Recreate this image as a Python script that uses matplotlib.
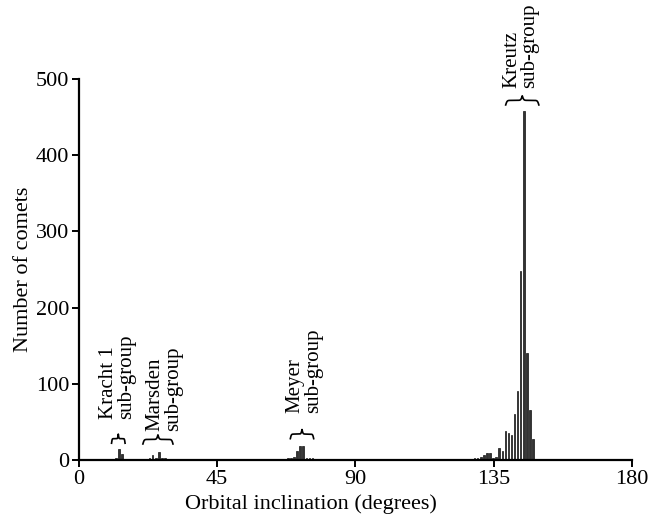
import numpy as np
import matplotlib
matplotlib.use("Agg")
import matplotlib.pyplot as plt

plt.rcParams["font.family"] = ["Liberation Serif", "DejaVu Serif"]

# inclination bins (degrees) and number of comets in each
kracht_inc = [12.0, 13.0, 14.0]
kracht_n = [3, 15, 8]

marsden_inc = [22.0, 23.0, 24.0, 25.0, 26.0, 27.0, 28.0, 29.0, 31.0, 33.0]
marsden_n = [1, 2, 7, 2, 11, 3, 2, 1, 1, 1]

meyer_inc = [66.0, 67.0, 68.0, 69.0, 70.0, 71.0, 72.0, 73.0, 74.0, 75.0, 76.0, 77.0]
meyer_n = [1, 1, 2, 2, 4, 12, 19, 18, 3, 2, 2, 1]

kreutz_inc = [121.8, 123.8, 125.8, 126.8, 127.8, 128.8, 129.8, 130.8, 131.8, 132.8,
              133.8, 134.8, 135.8, 136.8, 137.8, 138.8, 139.8, 140.8, 141.8,
              142.8, 143.8, 144.8, 145.8, 146.8, 147.8]
kreutz_n = [1, 1, 1, 1, 1, 2, 2, 4, 6, 9,
            9, 3, 4, 16, 12, 38, 35, 33, 61,
            91, 248, 458, 140, 66, 27]

other_inc = [5.0, 38.0, 41.0, 58.0, 61.0, 83.0, 101.0, 116.0, 160.0]
other_n = [1, 1, 1, 1, 1, 1, 1, 1, 1]

inc = np.array(kracht_inc + marsden_inc + meyer_inc + kreutz_inc + other_inc)
counts = np.array(kracht_n + marsden_n + meyer_n + kreutz_n + other_n)

# sub-group labels: (text, text centre, text bottom, brace start, brace end, brace y)
groups = [
    ("Kracht 1\nsub-group", 12.6, 54, 10.6, 15.0, 22),
    ("Marsden\nsub-group", 27.8, 38, 20.8, 30.6, 21),
    ("Meyer\nsub-group", 73.3, 62, 68.8, 76.4, 28),
    ("Kreutz\nsub-group", 143.8, 488, 138.9, 149.7, 466),
]


def brace(ax, x0, x1, y, h):
    # horizontal curly brace with the tip pointing up
    x = np.linspace(x0, x1, 401)
    half = x[:201]
    beta = 48.0 / (x1 - x0)
    yh = (1 / (1 + np.exp(-beta * (half - half[0])))
          + 1 / (1 + np.exp(-beta * (half - half[-1]))))
    yy = np.concatenate((yh, yh[-2::-1]))
    ax.plot(x, y + (yy - 0.5) * h, color="black", lw=1.2)


fig = plt.figure(figsize=(6.49, 5.20), dpi=100)
ax = fig.add_axes([0.1217, 0.1154, 0.852, 0.7326])

ax.bar(inc, counts, width=0.5, color="#333333", edgecolor="#111111", linewidth=0.5)

for label, xt, yt, b0, b1, yb in groups:
    brace(ax, b0, b1, yb, 12)
    ax.text(xt, yt, label, rotation=90, ha="center", va="bottom",
            multialignment="left", fontsize=15, linespacing=0.95)

ax.set_xlim(0, 180)
ax.set_ylim(0, 500)
ax.set_xticks([0, 45, 90, 135, 180])
ax.set_yticks([0, 100, 200, 300, 400, 500])
ax.spines["top"].set_visible(False)
ax.spines["right"].set_visible(False)
ax.spines["left"].set_linewidth(1.6)
ax.spines["bottom"].set_linewidth(1.6)
ax.tick_params(direction="out", length=5, width=1.4, labelsize=16, pad=2)

ax.set_xlabel("Orbital inclination (degrees)", fontsize=16)
ax.xaxis.set_label_coords(0.42, -0.09)
ax.set_ylabel("Number of comets", fontsize=16, labelpad=2)

fig.savefig("out.png", dpi=100)
